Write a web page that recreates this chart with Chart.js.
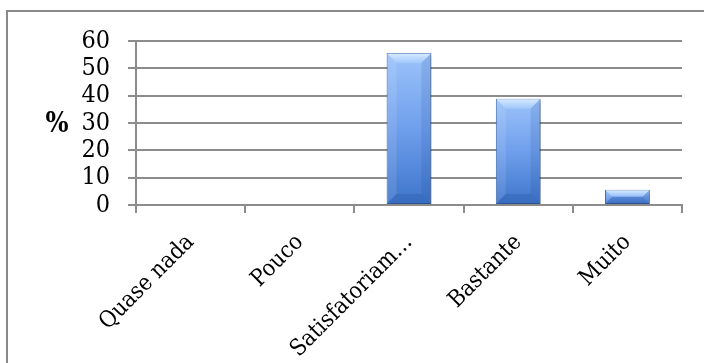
<!DOCTYPE html>
<html>
<head>
<meta charset="utf-8">
<script src="https://cdn.jsdelivr.net/npm/chart.js@4/dist/chart.umd.min.js"></script>
<style>
  html, body { margin: 0; padding: 0; background: #fff; }
  #wrap { position: relative; width: 704px; height: 363px; }
  canvas { display: block; }
</style>
</head>
<body>
<div id="wrap"><canvas id="c" width="704" height="363"></canvas></div>
<script>
// Response categories and share of answers (%)
const categories = ['Quase nada', 'Pouco', 'Satisfatoriam…', 'Bastante', 'Muito'];
const percentages = [0, 0, 55.6, 38.9, 5.6];
const yMin = 0;
const yMax = 60;
const yStep = 10;
const yTitle = '%';

const FONT = "'DejaVu Serif Condensed', 'DejaVu Serif', serif";
const GRID = '#8c8c8c';

// Frame around the chart (only top and left edges fall inside the page)
const framePlugin = {
  id: 'frame',
  beforeDraw(chart) {
    const ctx = chart.ctx;
    ctx.save();
    ctx.strokeStyle = '#8a8a8a';
    ctx.lineWidth = 2;
    ctx.strokeRect(7, 11, 800, 500);
    ctx.restore();
  }
};

// Upright "%" title beside the value axis
const yTitlePlugin = {
  id: 'yTitle',
  afterDraw(chart) {
    const ctx = chart.ctx;
    const a = chart.chartArea;
    ctx.save();
    ctx.font = 'bold 27px ' + FONT;
    ctx.fillStyle = '#000';
    ctx.textAlign = 'center';
    ctx.textBaseline = 'middle';
    ctx.fillText(yTitle, 57, (a.top + a.bottom) / 2 + 2);
    ctx.restore();
  }
};

// Soft drop shadow under the bars
const shadowPlugin = {
  id: 'barShadow',
  beforeDatasetDraw(chart) {
    const ctx = chart.ctx;
    ctx.save();
    ctx.shadowColor = 'rgba(0,0,0,0.35)';
    ctx.shadowOffsetX = 2;
    ctx.shadowOffsetY = 2;
    ctx.shadowBlur = 4;
  },
  afterDatasetDraw(chart) {
    chart.ctx.restore();
  }
};

// Bevelled edges on each bar, placed from the bar elements' geometry
const bevelPlugin = {
  id: 'bevel',
  afterDatasetsDraw(chart) {
    const ctx = chart.ctx;
    chart.getDatasetMeta(0).data.forEach(bar => {
      const p = bar.getProps(['x', 'y', 'base', 'width'], true);
      const l = p.x - p.width / 2, r = p.x + p.width / 2;
      const t = Math.min(p.y, p.base), b = Math.max(p.y, p.base);
      const h = b - t;
      if (h < 1) return;
      const bv = Math.min(10, h / 2, p.width / 2);
      ctx.save();
      ctx.beginPath();
      ctx.rect(l + 0.5, t + 0.5, p.width - 1, h - 1);
      ctx.clip();
      // top facet
      let g = ctx.createLinearGradient(0, t, 0, t + bv);
      g.addColorStop(0, 'rgba(225,240,255,0.95)');
      g.addColorStop(1, 'rgba(170,208,255,0.6)');
      ctx.fillStyle = g;
      ctx.beginPath();
      ctx.moveTo(l, t); ctx.lineTo(r, t); ctx.lineTo(r - bv, t + bv); ctx.lineTo(l + bv, t + bv);
      ctx.closePath(); ctx.fill();
      // bottom facet
      ctx.fillStyle = 'rgba(45,95,175,0.4)';
      ctx.beginPath();
      ctx.moveTo(l, b); ctx.lineTo(r, b); ctx.lineTo(r - bv, b - bv); ctx.lineTo(l + bv, b - bv);
      ctx.closePath(); ctx.fill();
      // left facet
      ctx.fillStyle = 'rgba(255,255,255,0.10)';
      ctx.beginPath();
      ctx.moveTo(l, t); ctx.lineTo(l + bv, t + bv); ctx.lineTo(l + bv, b - bv); ctx.lineTo(l, b);
      ctx.closePath(); ctx.fill();
      // right facet
      ctx.fillStyle = 'rgba(20,60,130,0.12)';
      ctx.beginPath();
      ctx.moveTo(r, t); ctx.lineTo(r - bv, t + bv); ctx.lineTo(r - bv, b - bv); ctx.lineTo(r, b);
      ctx.closePath(); ctx.fill();
      ctx.restore();
    });
  }
};

function barFill(context) {
  const chart = context.chart;
  const ys = chart.scales && chart.scales.y;
  if (!ys || !chart.chartArea || typeof context.raw !== 'number') return '#6f9fe6';
  const top = ys.getPixelForValue(context.raw);
  const bottom = ys.getPixelForValue(0);
  if (!isFinite(top) || !isFinite(bottom) || bottom - top < 1) return '#6f9fe6';
  const g = chart.ctx.createLinearGradient(0, top, 0, bottom);
  g.addColorStop(0, '#9cc3fa');
  g.addColorStop(0.5, '#6f9fec');
  g.addColorStop(1, '#3d74ca');
  return g;
}

new Chart(document.getElementById('c'), {
  type: 'bar',
  data: {
    labels: categories,
    datasets: [{
      data: percentages,
      backgroundColor: barFill,
      borderColor: '#3a68b0',
      borderWidth: 1,
      borderSkipped: false,
      categoryPercentage: 1,
      barPercentage: 0.41
    }]
  },
  options: {
    responsive: false,
    animation: false,
    layout: { padding: { top: 41, right: 22, left: 0, bottom: 0 } },
    plugins: { legend: { display: false }, tooltip: { enabled: false } },
    scales: {
      x: {
        offset: true,
        grid: { display: true, drawOnChartArea: false, drawTicks: true, tickLength: 8, color: GRID, lineWidth: 2, offset: true },
        border: { display: true, color: GRID, width: 2 },
        ticks: {
          color: '#000',
          font: { family: FONT, size: 23 },
          maxRotation: 45, minRotation: 45,
          autoSkip: false,
          padding: 16
        },
        afterFit(scale) { scale.height = 363 - 205; }
      },
      y: {
        min: yMin, max: yMax,
        grid: { color: GRID, lineWidth: 2, tickLength: 8, drawTicks: true },
        border: { display: true, color: GRID, width: 2 },
        ticks: {
          stepSize: yStep,
          autoSkip: false,
          color: '#000',
          font: { family: FONT, size: 25 },
          padding: 18
        },
        afterFit(scale) { scale.width = 136; }
      }
    }
  },
  plugins: [framePlugin, yTitlePlugin, shadowPlugin, bevelPlugin]
});
</script>
</body>
</html>
